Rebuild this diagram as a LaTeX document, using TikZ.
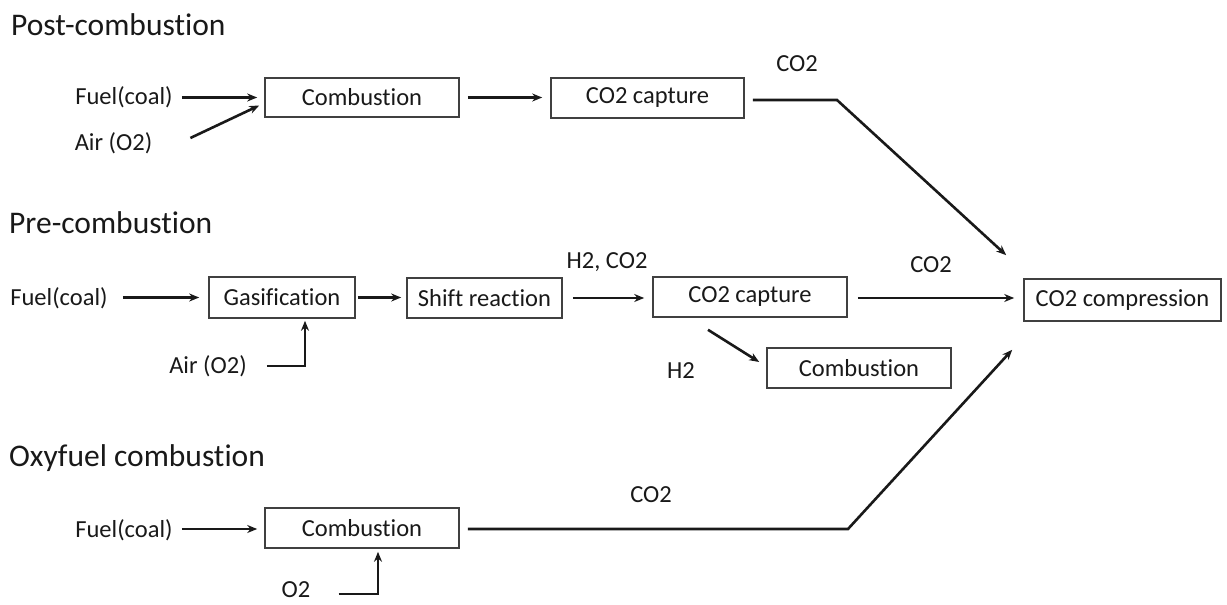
\documentclass[tikz,border=0pt]{standalone}
\usepackage{fontspec}
\setmainfont{Carlito}[Ligatures=NoCommon]
\usetikzlibrary{arrows.meta}
\begin{document}
\begin{tikzpicture}[x=1pt,y=-1pt,
 every node/.style={text=black!90},
 lbl/.style={inner sep=0pt, font=\fontsize{24.5}{28}\selectfont},
 ttl/.style={inner sep=0pt, anchor=base west, font=\fontsize{31.5}{36}\selectfont},
 box/.style={draw=black!75, line width=1.6pt, inner sep=0pt, font=\fontsize{24.5}{28}\selectfont},
 arr/.style={line width=2.6pt, draw=black!90, -{Stealth[length=10pt,width=8pt]}}]
\useasboundingbox (0,0) rectangle (1227,605);

% titles
\node[ttl] (t1) at (11,35) {Post-combustion};
\node[ttl] (t2) at (9,233) {Pre-combustion};
\node[ttl] (t3) at (9,466) {Oxyfuel combustion};

% boxes
\node[box, minimum width=194pt, minimum height=39pt] (c1) at (362,97.5) {Combustion};
\node[box, minimum width=193pt, minimum height=40pt] (cap1) at (647.5,98) {CO2 capture};
\node[box, minimum width=146pt, minimum height=41pt] (gas) at (282,297.5) {Gasification};
\node[box, minimum width=155pt, minimum height=40pt] (shift) at (484.5,298) {Shift reaction};
\node[box, minimum width=194pt, minimum height=40pt] (cap2) at (750,297) {CO2 capture};
\node[box, minimum width=197pt, minimum height=42pt] (comp) at (1122.5,300) {CO2 compression};
\node[box, minimum width=184pt, minimum height=40pt] (c2) at (859,368) {Combustion};
\node[box, minimum width=194pt, minimum height=40pt] (c3) at (362,528) {Combustion};

% labels
\node[lbl] (f1) at (124,97) {Fuel(coal)};
\node[lbl] (a1) at (113.5,143) {Air (O2)};
\node[lbl] (co2a) at (797,64) {CO2};
\node[lbl] (f2) at (59,298) {Fuel(coal)};
\node[lbl] (a2) at (208,366) {Air (O2)};
\node[lbl] (h2co2) at (607,262) {H2, CO2};
\node[lbl] (co2b) at (931,265) {CO2};
\node[lbl] (h2) at (681,371) {H2};
\node[lbl] (f3) at (124,530) {Fuel(coal)};
\node[lbl] (o2) at (296,590) {O2};
\node[lbl] (co2c) at (651,495) {CO2};

\coordinate (k1) at (837,100);
\coordinate (k2) at (848,529);

% post-combustion
\draw[arr, shorten <=9pt, shorten >=7pt] (f1.east |- c1.west) -- (c1.west);
\draw[arr] ([shift={(38,-5)}]a1.east) -- ([shift={(-5,8)}]c1.west);
\draw[arr, shorten <=8pt, shorten >=8pt] (c1.east) -- (c1.east -| cap1.west);
\draw[arr, shorten <=8pt] (cap1.east |- k1) -- (k1) -- ([shift={(-17,-23)}]comp.north west);

% pre-combustion
\draw[arr, shorten <=15pt, shorten >=9pt] (f2.east |- gas.west) -- (gas.west);
\draw[arr, shorten <=2pt, shorten >=5pt] (gas.east) -- (gas.east -| shift.west);
\draw[arr, shorten >=2pt] ([xshift=20pt]a2.east) -| ([xshift=23pt]gas.south);
\draw[arr, shorten <=10pt, shorten >=8pt] (shift.east) -- (shift.east -| cap2.west);
\draw[arr, shorten <=10pt, shorten >=9pt] ([yshift=-1pt]cap2.east) -- ([yshift=-1pt]cap2.east -| comp.west);
\draw[arr] ([shift={(-42,12)}]cap2.south) -- ([shift={(-7,-6)}]c2.west);

% oxyfuel
\draw[arr, shorten <=9pt, shorten >=7pt] (f3.east |- k2) -- (k2 -| c3.west);
\draw[arr, shorten >=3pt] ([xshift=28pt]o2.east |- 0,594) -| ([xshift=16pt]c3.south);
\draw[arr, shorten <=8pt] (c3.east |- k2) -- (k2) -- ([shift={(-11,28)}]comp.south west);
\end{tikzpicture}
\end{document}
